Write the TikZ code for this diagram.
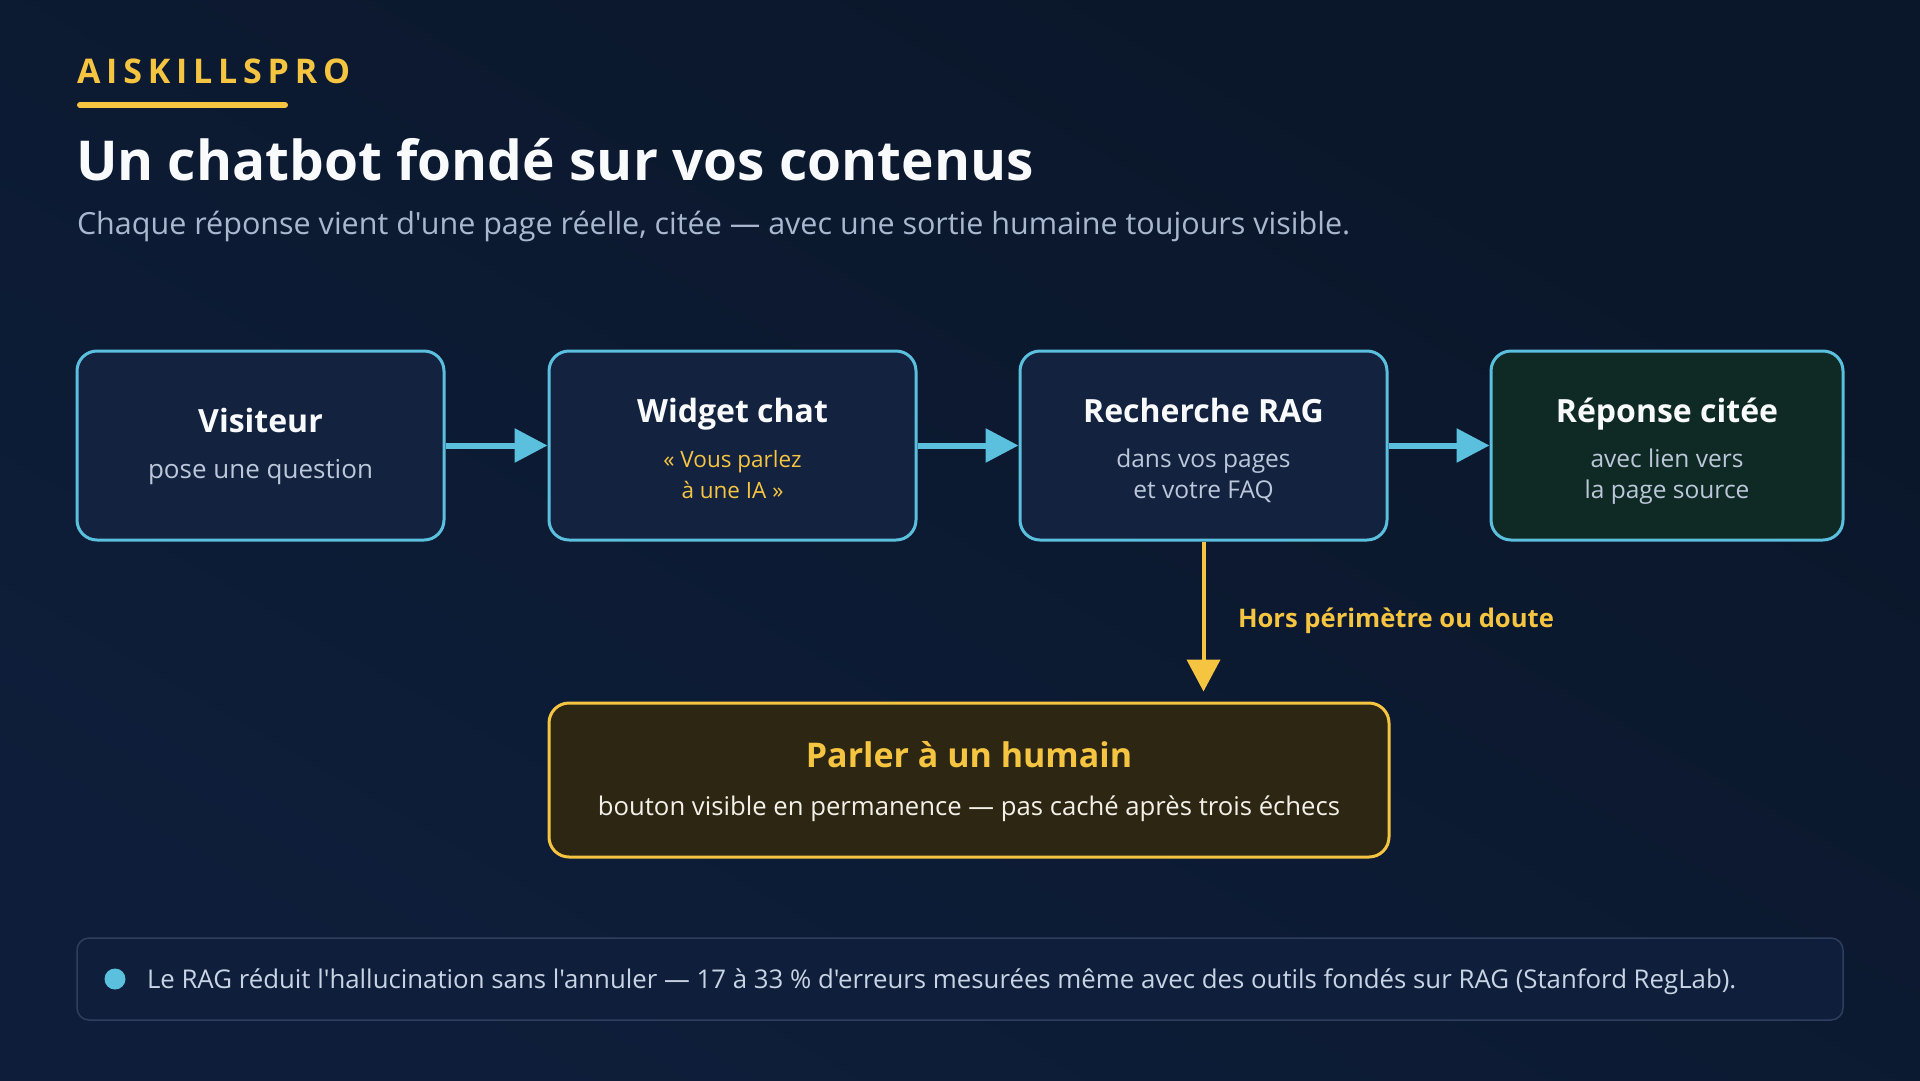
\documentclass[tikz,border=0pt]{standalone}
\usepackage{fontspec}
\setmainfont{Open Sans}[Ligatures=TeXOff]
\usetikzlibrary{arrows.meta}
\definecolor{bgdark}{HTML}{0A1629}
\definecolor{bglight}{HTML}{0E1E3A}
\definecolor{cyanc}{HTML}{5BC0DE}
\definecolor{boxblue}{HTML}{13223F}
\definecolor{boxgreen}{HTML}{0F2A24}
\definecolor{yel}{HTML}{F5C542}
\definecolor{boxyel}{HTML}{2D2613}
\definecolor{titlec}{HTML}{F8FAFC}
\definecolor{subc}{HTML}{A9B8CF}
\definecolor{boxsub}{HTML}{BCC8DA}
\definecolor{footfill}{HTML}{0F1F3B}
\definecolor{footline}{HTML}{2E3F5D}
\definecolor{foottext}{HTML}{C8D3E4}
\definecolor{humansub}{HTML}{F2F0E8}
\tikzset{
  stagebox/.style={draw=cyanc, line width=3pt, rounded corners=20pt, fill=boxblue, inner sep=0pt},
  txt/.style={anchor=base, inner sep=0pt, outer sep=0pt},
  boxtitle/.style={txt, text=titlec, font=\fontsize{32}{38}\selectfont\bfseries},
  boxsubt/.style={txt, text=boxsub, font=\fontsize{24.5}{31}\selectfont},
  flowarrow/.style={draw=cyanc, line width=6pt, -{Triangle[length=33pt,width=33pt]}},
  escarrow/.style={draw=yel, line width=4pt, -{Triangle[length=32pt,width=33pt]}},
}
\begin{document}
\begin{tikzpicture}[x=1pt,y=-1pt]
\shade[shading=axis, left color=bgdark, right color=bglight, shading angle=-30] (0,0) rectangle (1920,1080);
\useasboundingbox (0,0) rectangle (1920,1080);

% header
\node[txt, anchor=base west, text=yel, font=\fontsize{34}{40}\selectfont\bfseries\addfontfeature{LetterSpace=17}] (brand) at (77,83) {AISKILLSPRO};
\draw[yel, line width=6pt, line cap=round] (80,105) coordinate (ul1) -- (285,105) coordinate (ul2);
\node[txt, anchor=base west, text=titlec, font=\fontsize{55}{64}\selectfont\bfseries] (title) at (76,180) {Un chatbot fondé sur vos contenus};
\node[txt, anchor=base west, text=subc, font=\fontsize{30.5}{36}\selectfont] (subtitle) at (77,234) {Chaque réponse vient d'une page réelle, citée — avec une sortie humaine toujours visible.};

% stage boxes
\node[stagebox, minimum width=367pt, minimum height=189pt] (v) at (260.5,445.5) {};
\node[stagebox, minimum width=367pt, minimum height=189pt] (w) at (732.5,445.5) {};
\node[stagebox, minimum width=367pt, minimum height=189pt] (r) at (1203.5,445.5) {};
\node[stagebox, fill=boxgreen, minimum width=352pt, minimum height=189pt] (p) at (1667,445.5) {};

\node[boxtitle] (vt) at (260.5,432) {Visiteur};
\node[boxsubt, font=\fontsize{26}{31}\selectfont] (vs) at (260.5,478) {pose une question};

\node[boxtitle] (wt) at (732.5,422) {Widget chat};
\node[boxsubt, text=yel, font=\fontsize{22.5}{31}\selectfont] (ws1) at (732.5,467) {« Vous parlez};
\node[boxsubt, text=yel, font=\fontsize{22.5}{31}\selectfont] (ws2) at (732.5,498) {à une IA »};

\node[boxtitle] (rt) at (1203.5,422) {Recherche RAG};
\node[boxsubt] (rs1) at (1203.5,467) {dans vos pages};
\node[boxsubt] (rs2) at (1203.5,498) {et votre FAQ};

\node[boxtitle] (pt) at (1667,422) {Réponse citée};
\node[boxsubt] (ps1) at (1667,467) {avec lien vers};
\node[boxsubt] (ps2) at (1667,498) {la page source};

% arrows
\draw[flowarrow] (v.east) -- (w.west);
\draw[flowarrow] (w.east) -- (r.west);
\draw[flowarrow] (r.east) -- (p.west);

% human box
\node[stagebox, draw=yel, fill=boxyel, minimum width=840pt, minimum height=154pt] (h) at (969,780) {};
\node[boxtitle, text=yel, font=\fontsize{34}{40}\selectfont\bfseries] (ht) at (969,767) {Parler à un humain};
\node[boxsubt, text=humansub, font=\fontsize{25.7}{31}\selectfont] (hs) at (969,815) {bouton visible en permanence — pas caché après trois échecs};

\draw[escarrow, shorten >=10pt] (r.south) -- (r.south |- h.north);
\node[txt, anchor=base west, text=yel, font=\fontsize{25.6}{31}\selectfont\bfseries] (lbl) at (1238,627) {Hors périmètre ou doute};

% footer
\node[draw=footline, line width=1.5pt, fill=footfill, rounded corners=12pt, minimum width=1766pt, minimum height=82pt, inner sep=0pt] (foot) at (960,979) {};
\node[circle, fill=cyanc, minimum size=21pt, inner sep=0pt] (dot) at (115,979) {};
\node[txt, anchor=base west, text=foottext, font=\fontsize{25.8}{31}\selectfont] (ft) at (147,988) {Le RAG réduit l'hallucination sans l'annuler — 17 à 33 \% d'erreurs mesurées même avec des outils fondés sur RAG (Stanford RegLab).};
\end{tikzpicture}
\end{document}
